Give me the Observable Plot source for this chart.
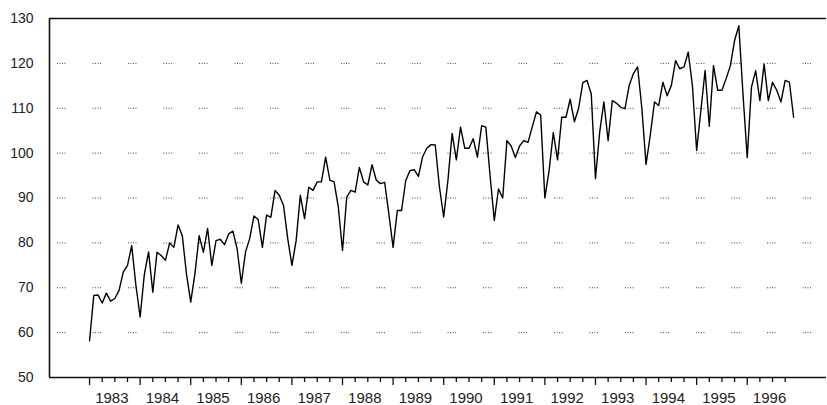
<!DOCTYPE html>
<html>
<head>
<meta charset="utf-8">
<script src="https://cdn.jsdelivr.net/npm/d3@7"></script>
<script src="https://cdn.jsdelivr.net/npm/@observablehq/plot@0.6"></script>
<style>
  html, body { margin: 0; padding: 0; background: #fff; }
  #chart svg { display: block; font-family: "Liberation Sans", Arial, sans-serif; }
</style>
</head>
<body>
<div id="chart"></div>
<script>
// Monthly index, January 1983 to December 1996
const startYear = 1983;
const yearLabels = ["1983","1984","1985","1986","1987","1988","1989","1990","1991","1992","1993","1994","1995","1996"];
const values = [
  58.2, 68.3, 68.4, 66.6, 68.8, 67.0, 67.6, 69.4, 73.5, 75.0, 79.4, 70.5,
  63.5, 73.0, 78.0, 69.0, 77.9, 77.2, 76.1, 80.0, 79.0, 84.0, 81.6, 73.0,
  66.8, 73.2, 81.6, 77.9, 83.2, 75.0, 80.5, 80.8, 79.6, 82.0, 82.6, 78.7,
  71.0, 78.0, 81.0, 86.0, 85.2, 79.0, 86.2, 85.7, 91.7, 90.6, 88.4, 81.0,
  75.0, 80.5, 90.6, 85.4, 92.4, 91.7, 93.6, 93.6, 99.1, 94.0, 93.6, 88.0,
  78.3, 90.2, 91.7, 91.3, 96.8, 93.6, 92.9, 97.4, 94.0, 93.2, 93.5, 86.4,
  79.0, 87.2, 87.2, 93.9, 96.1, 96.3, 94.8, 99.2, 101.1, 101.9, 101.8, 92.4,
  85.8, 93.9, 104.4, 98.5, 105.8, 101.1, 101.1, 103.2, 99.1, 106.1, 105.8, 95.0,
  85.0, 92.0, 90.0, 102.8, 101.6, 99.0, 101.6, 102.8, 102.4, 105.8, 109.2, 108.5,
  90.0, 96.1, 104.6, 98.5, 108.0, 108.0, 112.0, 107.0, 110.0, 115.7, 116.2, 113.2,
  94.3, 104.7, 111.4, 102.8, 111.7, 111.1, 110.2, 109.9, 115.1, 117.7, 119.2, 110.0,
  97.5, 104.0, 111.4, 110.6, 115.8, 112.8, 115.1, 120.6, 118.8, 119.2, 122.5, 115.0,
  100.6, 109.5, 118.4, 106.0, 119.5, 114.0, 114.0, 116.6, 119.5, 125.1, 128.4, 113.0,
  99.0, 114.7, 118.4, 111.7, 119.9, 111.7, 115.8, 114.0, 111.4, 116.2, 115.8, 108.0
];
const yTicks = [50, 60, 70, 80, 90, 100, 110, 120, 130];
const gridValues = [60, 70, 80, 90, 100, 110, 120];
const xDomain = [-9.5, 174.8];   // months relative to Jan 1983
const yDomain = [50, 130];

const data = values.map((v, i) => ({i, v}));
const yearStarts = yearLabels.map((_, k) => k * 12);
const yearMids = yearLabels.map((_, k) => k * 12 + 6);
const quarterTicks = d3.range(0, yearLabels.length * 12 - 2, 3).filter(i => i % 12 !== 0);

const chart = Plot.plot({
  width: 827,
  height: 405,
  marginLeft: 49,
  marginRight: 1,
  marginTop: 18,
  marginBottom: 28,
  style: {fontFamily: "'Liberation Sans', Arial, sans-serif", color: "#222", background: "#fff"},
  x: {type: "linear", domain: xDomain, axis: null},
  y: {domain: yDomain, axis: null},
  marks: [
    Plot.ruleY(gridValues, {stroke: "#444", strokeWidth: 1, strokeDasharray: "1,1.5,1,1.5,1,1.5,1,27", strokeDashoffset: -8}),
    Plot.line(data, {x: "i", y: "v", stroke: "#000", strokeWidth: 1.4}),
    Plot.ruleY(yDomain, {stroke: "#111", strokeWidth: 1.6}),
    Plot.ruleX([xDomain[0]], {stroke: "#111", strokeWidth: 1.6}),
    Plot.axisY({ticks: yTicks, label: null, tickSize: 0, tickPadding: 16, fontSize: 14, tickFormat: d => String(d)}),
    Plot.axisX({ticks: yearStarts, label: null, tickSize: 8, stroke: "#111", strokeWidth: 1.3, tickFormat: () => ""}),
    Plot.axisX({ticks: quarterTicks, label: null, tickSize: 5, stroke: "#111", strokeWidth: 1.3, tickFormat: () => ""}),
    Plot.axisX({ticks: yearMids, label: null, tickSize: 0, tickPadding: 15, fontSize: 15, dx: -3, tickFormat: d => yearLabels[(d - 6) / 12]})
  ]
});
document.getElementById("chart").appendChild(chart);
</script>
</body>
</html>
